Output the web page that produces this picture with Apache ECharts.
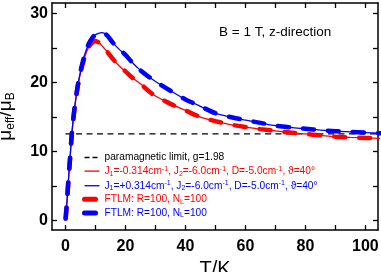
<!DOCTYPE html>
<html>
<head>
<meta charset="utf-8">
<script src="https://cdn.jsdelivr.net/npm/echarts@6/dist/echarts.min.js"></script>
<style>
html,body{margin:0;padding:0;background:#fff;}
#chart{width:381px;height:272px;}
</style>
</head>
<body>
<div id="chart"></div>
<script>
var temps = [0.05, 0.5, 1, 1.5, 2, 2.5, 3, 4, 5, 6, 7, 8, 9, 10, 11, 12, 13, 14, 16, 18, 20, 22, 25, 28, 30, 35, 40, 45, 50, 55, 60, 65, 70, 75, 80, 85, 90, 95, 100, 105];
var muRed = [0.3, 2.8, 6.0, 8.9, 12.0, 14.3, 16.2, 19.2, 21.4, 23.1, 24.4, 25.3, 25.8, 26.0, 25.8, 25.4, 24.9, 24.4, 23.3, 22.35, 21.6, 20.8, 19.8, 18.65, 18.05, 16.9, 15.95, 15.0, 14.4, 13.9, 13.55, 13.25, 13.0, 12.75, 12.55, 12.35, 12.15, 12.05, 11.98, 11.92];
var muBlue = [0.3, 2.8, 6.0, 8.9, 12.0, 14.3, 16.2, 19.3, 21.6, 23.4, 24.8, 25.8, 26.5, 26.9, 27.1, 27.2, 27.1, 26.75, 25.65, 24.75, 24.0, 23.0, 21.75, 20.75, 20.15, 18.8, 17.55, 16.55, 15.55, 15.0, 14.55, 14.15, 13.75, 13.5, 13.3, 13.1, 12.95, 12.85, 12.75, 12.65];
var paraT = [0, 106];
var paraMu = [12.55, 12.55];

var xTicks = [0, 10, 20, 30, 40, 50, 60, 70, 80, 90, 100];
var xLabels = [0, 20, 40, 60, 80, 100];
var yTicks = [0, 5, 10, 15, 20, 25, 30];
var yLabels = [0, 10, 20, 30];

function pairs(xs, ys) { return xs.map(function (x, i) { return [x, ys[i]]; }); }

var FONT = 'Liberation Sans, Arial, sans-serif';
var RED = '#ff0000', BLUE = '#0000ff';

var legendText = {
  para: '{n|paramagnetic limit, g=1.98}',
  redLine: '{n|J}{b|1}{n|=-0.314cm}{t|-1}{n|, J}{b|2}{n|=-6.0cm}{t|-1}{n|, D=-5.0cm}{t|-1}{n|, ϑ=40°}',
  blueLine: '{n|J}{b|1}{n|=+0.314cm}{t|-1}{n|, J}{b|2}{n|=-6.0cm}{t|-1}{n|, D=-5.0cm}{t|-1}{n|, ϑ=40°}',
  redFTLM: '{n|FTLM: R=100, N}{b|L}{n|=100}',
  blueFTLM: '{n|FTLM: R=100, N}{b|L}{n|=100}'
};

var frame = {show: true, onZero: false, lineStyle: {color: '#000', width: 1.5}};
var hideSym = {opacity: 0};

var option = {
  animation: false,
  backgroundColor: '#fff',
  title: {
    text: 'B = 1 T, z-direction',
    left: 219, top: 25.5, padding: 0,
    textStyle: {fontFamily: FONT, fontSize: 13.5, fontWeight: 'normal', color: '#000'}
  },
  grid: {left: 52, right: 3, top: 3, bottom: 42, containLabel: false, outerBoundsMode: 'none'},
  legend: {
    orient: 'vertical', left: 82, top: 152.5, padding: 0,
    itemWidth: 15, itemHeight: 6, itemGap: 2.6,
    selectedMode: false,
    formatter: function (n) { return legendText[n]; },
    textStyle: {
      fontFamily: FONT, fontSize: 10.2,
      rich: {
        n: {fontFamily: FONT, fontSize: 10.2, lineHeight: 12},
        b: {fontFamily: FONT, fontSize: 7, lineHeight: 7, verticalAlign: 'bottom'},
        t: {fontFamily: FONT, fontSize: 7, lineHeight: 8, verticalAlign: 'top'}
      }
    },
    data: [
      {name: 'para', textStyle: {color: '#000'}, itemStyle: hideSym, lineStyle: {width: 1.3, type: [5, 3], color: '#000'}},
      {name: 'redLine', textStyle: {color: RED}, itemStyle: hideSym, lineStyle: {width: 1.3, color: RED}},
      {name: 'blueLine', textStyle: {color: BLUE}, itemStyle: hideSym, lineStyle: {width: 1.3, color: BLUE}},
      {name: 'redFTLM', textStyle: {color: RED}, itemStyle: hideSym, lineStyle: {width: 5, color: RED, cap: 'round'}},
      {name: 'blueFTLM', textStyle: {color: BLUE}, itemStyle: hideSym, lineStyle: {width: 5, color: BLUE, cap: 'round'}}
    ]
  },
  xAxis: [{
    type: 'value', min: -4.5, max: 104.2, position: 'bottom',
    axisLine: frame,
    splitLine: {show: false},
    axisTick: {show: true, inside: true, length: 5, lineStyle: {color: '#000', width: 1.3}, customValues: xTicks},
    axisLabel: {show: true, customValues: xLabels, margin: 9, fontFamily: FONT, fontSize: 16, fontWeight: 'bold', color: '#000'},
    name: 'T/K', nameLocation: 'middle', nameGap: 23,
    nameTextStyle: {fontFamily: FONT, fontSize: 20, color: '#000'}
  }, {
    type: 'value', min: -4.5, max: 104.2, position: 'top',
    axisLine: frame,
    splitLine: {show: false},
    axisTick: {show: true, inside: true, length: 5, lineStyle: {color: '#000', width: 1.3}, customValues: xTicks},
    axisLabel: {show: false}
  }],
  yAxis: [{
    type: 'value', min: -1.35, max: 31.5, position: 'left',
    axisLine: frame,
    splitLine: {show: false},
    axisTick: {show: true, inside: true, length: 5, lineStyle: {color: '#000', width: 1.3}, customValues: yTicks},
    axisLabel: {show: true, customValues: yLabels, margin: 4, fontFamily: FONT, fontSize: 16, fontWeight: 'bold', color: '#000'},
    name: '{m|μ}{s|eff}{m|/μ}{s|B}', nameLocation: 'middle', nameGap: 35, nameRotate: 90,
    nameTextStyle: {
      fontFamily: FONT, fontSize: 19, color: '#000',
      rich: {
        m: {fontFamily: FONT, fontSize: 19, lineHeight: 22},
        s: {fontFamily: FONT, fontSize: 12, lineHeight: 14, verticalAlign: 'bottom'}
      }
    }
  }, {
    type: 'value', min: -1.35, max: 31.5, position: 'right',
    axisLine: frame,
    splitLine: {show: false},
    axisTick: {show: true, inside: true, length: 5, lineStyle: {color: '#000', width: 1.3}, customValues: yTicks},
    axisLabel: {show: false}
  }],
  series: [
    {name: 'para', type: 'line', data: pairs(paraT, paraMu), symbol: 'none', clip: true,
      lineStyle: {color: '#000', width: 1.3, type: [6, 4.5]}, z: 2},
    {name: 'redLine', type: 'line', data: pairs(temps, muRed), symbol: 'none', smooth: 0.3, clip: true,
      lineStyle: {color: RED, width: 1.3}, z: 3},
    {name: 'blueLine', type: 'line', data: pairs(temps, muBlue), symbol: 'none', smooth: 0.3, clip: true,
      lineStyle: {color: BLUE, width: 1.3}, z: 3},
    {name: 'redFTLM', type: 'line', data: pairs(temps, muRed), symbol: 'none', smooth: 0.3, clip: true,
      lineStyle: {color: RED, width: 4.5, type: [11, 14], cap: 'round'}, z: 4},
    {name: 'blueFTLM', type: 'line', data: pairs(temps, muBlue), symbol: 'none', smooth: 0.3, clip: true,
      lineStyle: {color: BLUE, width: 4.5, type: [11, 14], cap: 'round'}, z: 5}
  ]
};

var chart = echarts.init(document.getElementById('chart'), null, {renderer: 'canvas'});
chart.setOption(option);
</script>
</body>
</html>
